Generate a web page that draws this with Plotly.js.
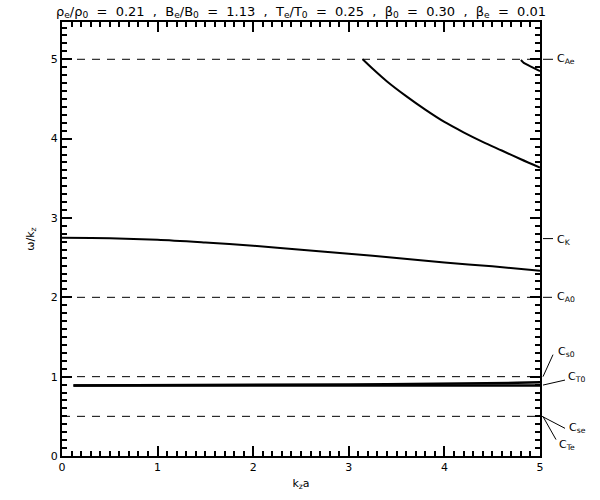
<!DOCTYPE html>
<html>
<head>
<meta charset="utf-8">
<script src="https://cdn.plot.ly/plotly-3.0.1.min.js"></script>
<style>html,body{margin:0;padding:0;background:#fff;}#chart{width:600px;height:500px;}</style>
</head>
<body>
<div id="chart"></div>
<script>
// Fast (upper) branch
const fastX = [3.145, 3.25, 3.40, 3.60, 3.80, 4.00, 4.20, 4.40, 4.60, 4.80, 5.00];
const fastY = [5.00, 4.88, 4.72, 4.535, 4.365, 4.21, 4.08, 3.96, 3.85, 3.74, 3.635];
// Short fast branch near x=5
const fast2X = [4.80, 4.83, 4.90, 5.00];
const fast2Y = [4.99, 4.955, 4.91, 4.85];
// Kink surface mode
const kinkX = [0, 0.5, 1, 1.5, 2, 2.5, 3, 3.5, 4, 4.5, 5];
const kinkY = [2.75, 2.745, 2.725, 2.69, 2.65, 2.60, 2.55, 2.495, 2.44, 2.39, 2.335];
// Slow modes
const slowAX = [0.12, 1, 2, 3, 4, 5];
const slowAY = [0.888, 0.888, 0.889, 0.889, 0.890, 0.890];
const slowBX = [0.12, 1, 2, 2.2, 3, 3.4, 4, 4.5, 4.76, 5];
const slowBY = [0.889, 0.890, 0.893, 0.896, 0.901, 0.905, 0.910, 0.916, 0.922, 0.930];
// Characteristic speeds
const dashedSpeeds = [5.0, 2.0, 1.0, 0.5];
const speedNames = ["C<sub>Ae</sub>", "C<sub>K</sub>", "C<sub>A0</sub>", "C<sub>s0</sub>", "C<sub>T0</sub>", "C<sub>se</sub>", "C<sub>Te</sub>"];
const speedValues = [5.0, 2.74, 2.0, 1.0, 0.894, 0.5, 0.497];
// label layout offsets (pixels): line start dx, line end dx, line end dy (up)
const lblLine = [[3,13,0],[3,13,0],[3,12,0],[3,13,22],[3,25,5],[2,25,-12],[3,16,-23]];
// text offsets: dx, dy (up)
const lblText = [[15,0],[15,-1],[15,0],[16,25],[26,8],[27,-12],[17,-28]];

const xMax = 5, yMax = 5.47;

const lineStyle = {color: 'black', width: 2};
const traces = [
  {x: fastX, y: fastY, mode: 'lines', line: Object.assign({shape: 'spline', smoothing: 0.8}, lineStyle)},
  {x: fast2X, y: fast2Y, mode: 'lines', line: lineStyle},
  {x: kinkX, y: kinkY, mode: 'lines', line: Object.assign({shape: 'spline', smoothing: 0.8}, lineStyle)},
  {x: slowAX, y: slowAY, mode: 'lines', line: {color: 'black', width: 2.5}},
  {x: slowBX, y: slowBY, mode: 'lines', line: {color: 'black', width: 2.5}}
];

const shapes = dashedSpeeds.map(v => ({
  type: 'line', xref: 'x', yref: 'y', x0: 0, x1: xMax, y0: v, y1: v,
  line: {color: 'black', width: 1, dash: '8px,7px'}
}));
speedValues.forEach((v, i) => {
  const L = lblLine[i];
  shapes.push({
    type: 'line', xref: 'paper', yref: 'paper', xsizemode: 'pixel', ysizemode: 'pixel',
    xanchor: 1, yanchor: v / yMax, x0: L[0], x1: L[1], y0: 0, y1: L[2],
    line: {color: 'black', width: 1}
  });
});
const annotations = speedNames.map((n, i) => ({
  text: n, x: xMax, y: speedValues[i], xref: 'x', yref: 'y',
  xanchor: 'left', yanchor: 'middle', showarrow: false,
  xshift: lblText[i][0], yshift: lblText[i][1],
  font: {size: 11, color: 'black'}
}));

const axisCommon = {
  showline: true, linecolor: 'black', linewidth: 2, mirror: 'allticks',
  ticks: 'inside', ticklen: 10, tickwidth: 2, tickcolor: 'black',
  showgrid: false, zeroline: false, dtick: 1, tick0: 0,
  tickfont: {size: 11, color: 'black'},
  minor: {dtick: 0.1, ticks: 'inside', ticklen: 5, tickwidth: 2, tickcolor: 'black', showgrid: false}
};

const sp = '\u00A0\u00A0';
const titleText = ['ρ<sub>e</sub>/ρ<sub>0</sub>', '=', '0.21', ',', 'B<sub>e</sub>/B<sub>0</sub>', '=', '1.13', ',',
  'T<sub>e</sub>/T<sub>0</sub>', '=', '0.25', ',', 'β<sub>0</sub>', '=', '0.30', ',', 'β<sub>e</sub>', '=', '0.01'].join(sp);

const layout = {
  width: 600, height: 500,
  margin: {l: 62, r: 60, t: 22, b: 44},
  paper_bgcolor: 'white', plot_bgcolor: 'white',
  font: {family: 'DejaVu Sans, sans-serif', color: 'black'},
  showlegend: false,
  title: {
    text: titleText,
    x: 0.5, xref: 'paper', xanchor: 'center', y: 0.978, yref: 'container', yanchor: 'middle',
    font: {size: 13, color: 'black'}
  },
  xaxis: Object.assign({}, axisCommon, {
    range: [0, xMax],
    title: {text: 'k<sub>z</sub>a', font: {size: 11}, standoff: 6}
  }),
  yaxis: Object.assign({}, axisCommon, {
    range: [0, yMax],
    title: {text: 'ω/k<sub>z</sub>', font: {size: 11}, standoff: 14}
  }),
  shapes: shapes,
  annotations: annotations
};

Plotly.newPlot('chart', traces, layout, {staticPlot: true, displayModeBar: false});
</script>
</body>
</html>
